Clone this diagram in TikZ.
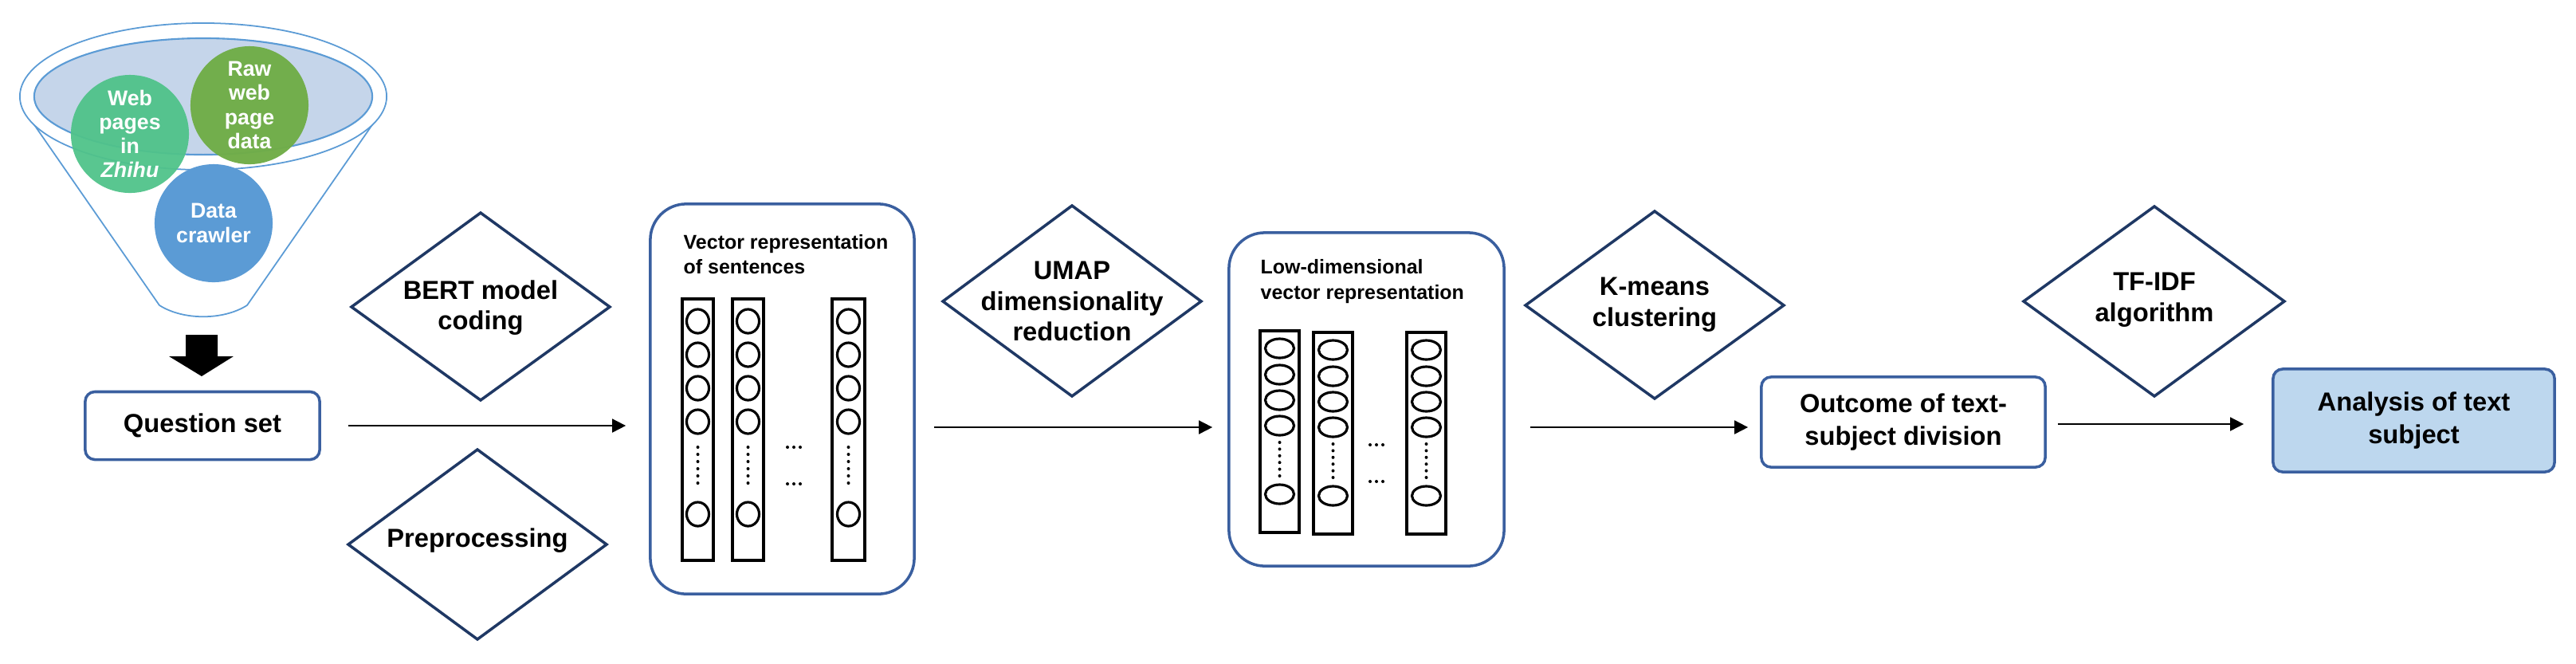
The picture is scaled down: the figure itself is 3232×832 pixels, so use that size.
\documentclass[tikz,border=0pt]{standalone}
\usepackage{fontspec}
\setmainfont{Liberation Sans}
\usetikzlibrary{arrows.meta}
\definecolor{navy}{HTML}{1F3864}
\definecolor{bbord}{HTML}{3A5F9F}
\definecolor{funl}{HTML}{5B9BD5}
\definecolor{funf}{HTML}{C5D5EA}
\definecolor{cgreen}{HTML}{50C38A}
\definecolor{colive}{HTML}{70AD47}
\definecolor{cblue}{HTML}{5B9BD5}
\definecolor{afill}{HTML}{BDD7EE}
\begin{document}
\begin{tikzpicture}[x=0.01cm,y=-0.01cm,
  box/.style={draw=bbord,line width=1pt,rounded corners=0.12cm,align=center,font=\bfseries\fontsize{9.3}{11.4}\selectfont,inner sep=0pt},
  vbox/.style={draw=bbord,line width=1pt,rounded corners=0.45cm,inner sep=0pt},
  dia/.style={draw=navy,line width=1pt},
  dtxt/.style={align=center,font=\bfseries\fontsize{9.3}{11}\selectfont,inner sep=0pt},
  circ/.style={circle,minimum size=1.48cm,inner sep=0pt,align=center,text=white,font=\bfseries\fontsize{7.6}{8.6}\selectfont},
  ttl/.style={anchor=west,align=left,font=\bfseries\fontsize{7.1}{9}\selectfont,inner sep=0pt},
  col/.style={draw=black,line width=0.9pt},
  arr/.style={-{Triangle[length=0.17cm,width=0.17cm]},line width=0.5pt,black}]
\useasboundingbox (0,0) rectangle (3232,832);
% funnel
\draw[funl,line width=0.5pt] (28,135) -- (200,383) .. controls (230,402) and (280,402) .. (310,383) -- (482,135);
\draw[funl,line width=0.5pt,fill=white] (255,121) ellipse [x radius=2.30cm,y radius=0.92cm];
\draw[funl,line width=0.6pt,fill=funf] (255,121) ellipse [x radius=2.12cm,y radius=0.73cm];
\node[circ,fill=cgreen,fill opacity=0.95,text opacity=1] (web) at (163,168) {Web\\pages\\in\\\textit{Zhihu}};
\node[circ,fill=colive,fill opacity=0.97,text opacity=1] (raw) at (313,132) {Raw\\web\\page\\data};
\node[circ,fill=cblue] (crawl) at (268,280) {Data\\crawler};
\fill[black] (233,420) -- (273,420) -- (273,447) -- (293,447) -- (253,472) -- (212,447) -- (233,447) -- cycle;
% boxes
\node[box,minimum width=2.94cm,minimum height=0.85cm] (qs) at (254,534) {Question set};
\node[vbox,minimum width=3.31cm,minimum height=4.89cm] (vb1) at (981.5,500.5) {};
\node[vbox,minimum width=3.45cm,minimum height=4.18cm] (vb2) at (1714.5,501) {};
\node[box,minimum width=3.56cm,minimum height=1.13cm] (out) at (2388,529.5) {Outcome of text-\\subject division};
\node[box,fill=afill,minimum width=3.53cm,minimum height=1.29cm] (ana) at (3028.5,527.5) {Analysis of text\\subject};
\node[ttl] (t1) at (857,319) {Vector representation\\of sentences};
\node[ttl] (t2) at (1581,353) {Low-dimensional\\vector representation};
% columns box1
\foreach \cx/\xa/\xb in {875.5/856/895, 938.5/919/958, 1064.5/1044/1085}{
  \draw[col] (\xa,375) rectangle (\xb,703);
  \foreach \cy in {403,445,487,529,645}{\draw[line width=0.9pt] (\cx,\cy) ellipse [x radius=0.14cm,y radius=0.15cm];}
  \foreach \k in {0,...,5}{\fill (\cx,561+\k*9) circle (0.02cm);}
}
\foreach \yy in {561,607}{\foreach \xx in {988,996,1004}{\fill (\xx,\yy) circle (0.02cm);}}
% columns box2
\foreach \cx/\xa/\xb/\ya/\yb in {1605.5/1581/1630/415/668, 1672.5/1648/1697/417/670, 1789.5/1765/1814/417/670}{
  \draw[col] (\xa,\ya) rectangle (\xb,\yb);
  \foreach \cy in {437,470,502,534,620}{\draw[line width=0.9pt] (\cx,\cy+\ya-415) ellipse [x radius=0.18cm,y radius=0.12cm];}
  \foreach \k in {0,...,5}{\fill (\cx,555+\ya-415+\k*8.4) circle (0.02cm);}
}
\foreach \yy in {558,604}{\foreach \xx in {1719,1727,1735}{\fill (\xx,\yy) circle (0.02cm);}}
% diamonds
\draw[dia] (441,385) -- (603,267) -- (765,385) -- (603,502) -- cycle;
\node[dtxt] (d1) at (603,386) {BERT model\\coding};
\draw[dia] (437,683) -- (599,564) -- (761,683) -- (599,802) -- cycle;
\node[dtxt] (d2) at (599,678) {Preprocessing};
\draw[dia] (1183,378) -- (1345,258) -- (1507,378) -- (1345,497) -- cycle;
\node[dtxt] (d3) at (1345,378) {UMAP\\dimensionality\\reduction};
\draw[dia] (1914,383) -- (2076,265) -- (2238,383) -- (2076,500) -- cycle;
\node[dtxt] (d4) at (2076,382) {K-means\\clustering};
\draw[dia] (2539,378) -- (2703,259) -- (2866,378) -- (2703,497) -- cycle;
\node[dtxt] (d5) at (2703,376) {TF-IDF\\algorithm};
% arrows
\draw[arr,shorten <=0.34cm,shorten >=0.29cm] (qs.east) -- (qs.east -| vb1.west);
\draw[arr,shorten <=0.23cm,shorten >=0.19cm] (vb1.east |- 0,536) -- (vb2.west |- 0,536);
\draw[arr,shorten <=0.31cm,shorten >=0.15cm] (vb2.east |- 0,536) -- (out.west |- 0,536);
\draw[arr,shorten <=0.14cm,shorten >=0.35cm] (out.east |- 0,532) -- (ana.west |- 0,532);
\end{tikzpicture}
\end{document}
